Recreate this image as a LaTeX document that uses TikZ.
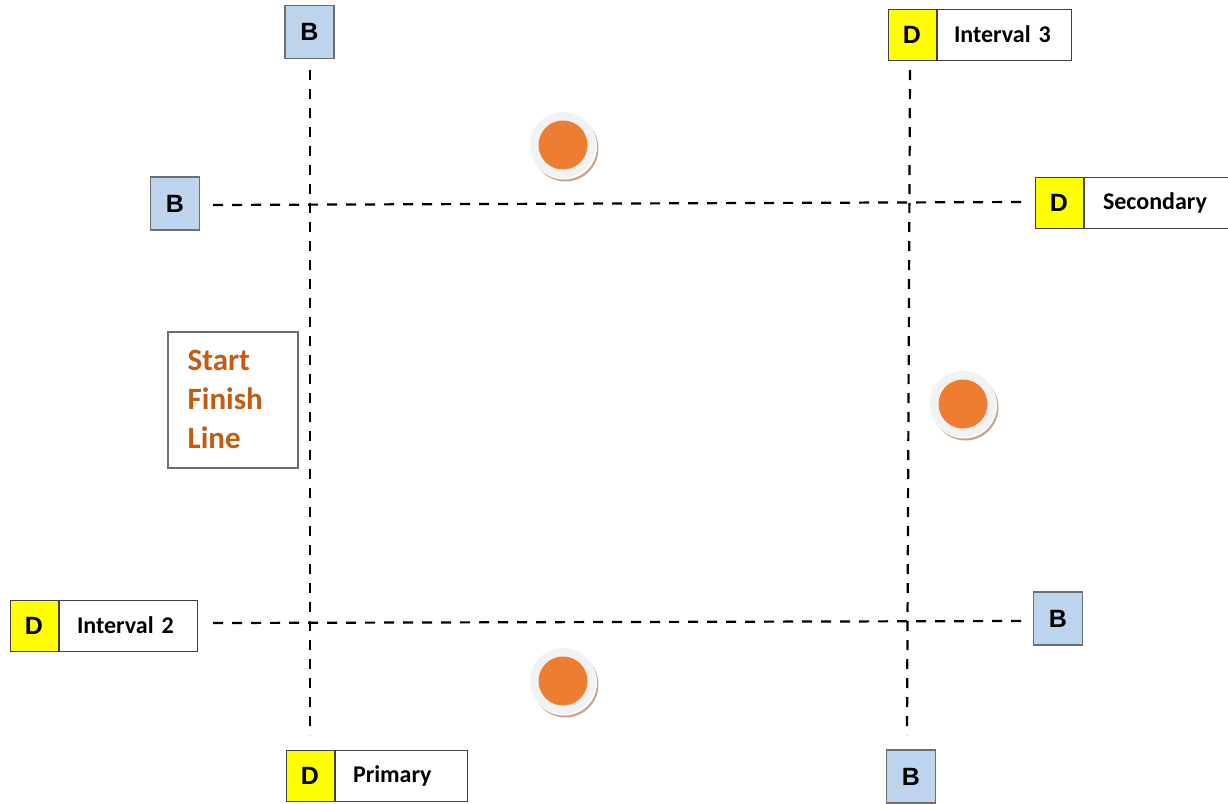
\documentclass[tikz,border=0pt]{standalone}
\usepackage{fontspec}
\setmainfont{Carlito}
\newfontfamily\arialb{Liberation Sans}
\definecolor{bblue}{HTML}{BDD4EE}
\definecolor{dyel}{HTML}{FFFF00}
\definecolor{sforange}{HTML}{C55A11}
\definecolor{ball}{HTML}{ED7D31}
\definecolor{ringc}{HTML}{F2F2F2}
\definecolor{shadc}{HTML}{C9A488}
\definecolor{bord}{HTML}{6E6E6E}
\begin{document}
\begin{tikzpicture}[x=1pt,y=-1pt,
  bbox/.style={draw=bord,line width=1.2pt,fill=bblue,minimum width=49pt,minimum height=53pt,inner sep=0pt,font=\arialb\fontsize{25}{28}\selectfont\bfseries},
  dbox/.style={draw=black!75,line width=1pt,fill=dyel,minimum width=48pt,minimum height=51pt,inner sep=0pt,font=\arialb\fontsize{25}{28}\selectfont\bfseries},
  lbox/.style={draw=black!75,line width=1pt,fill=white,minimum height=51pt,inner ysep=0pt,inner xsep=17pt,align=left,anchor=west,font=\fontsize{24}{26}\selectfont\bfseries},
  dline/.style={line width=2.2pt,dash pattern=on 10pt off 9pt},
]
\useasboundingbox (0,0) rectangle (1228,803);
% B boxes
\node[bbox] (Btop) at (309.5,32) {B};
\node[bbox] (Bleft) at (175,203.5) {B};
\node[bbox] (Bright) at (1058,618.5) {B};
\node[bbox] (Bbot) at (911,776.5) {B};
% D + label pairs
\node[dbox] (D3) at (912,34.5) {D};
\node[lbox,text width=100pt] (L3) at (D3.east) {Interval 3};
\node[dbox] (DS) at (1059,202.5) {D};
\node[lbox,text width=111pt,inner xsep=19pt,text width=107pt] (LS) at (DS.east) {Secondary};
\node[dbox] (D2) at (34,625.5) {D};
\node[lbox,inner xsep=18pt,text width=102pt] (L2) at (D2.east) {Interval 2};
\node[dbox] (DP) at (310,775.5) {D};
\node[lbox,inner xsep=18pt,text width=96pt] (LP) at (DP.east) {Primary};
% Start finish box
\node[draw=bord,line width=1.5pt,fill=white,minimum width=130pt,minimum height=136pt,inner sep=0pt] (SF) at (233,400) {};
\node[anchor=north west,align=left,text=sforange,font=\fontsize{31}{39}\selectfont\bfseries,inner sep=0pt] (SFt) at (187.5,350) {Start\\Finish\\Line};
% dashed line ends
\coordinate (v1a) at (310,70); \coordinate (v1b) at (310,735);
\coordinate (v2a) at (910,70); \coordinate (v2b) at (907,735);
\coordinate (h1a) at (213,205); \coordinate (h1b) at (1025,202);
\coordinate (h2a) at (213,623); \coordinate (h2b) at (1025,621);
\draw[dline] (v1a) -- (v1b);
\draw[dline] (v2a) -- (v2b);
\draw[dline] (h1a) -- (h1b);
\draw[dline] (h2a) -- (h2b);
% balls
\foreach \n/\cx/\cy in {ball1/563/145, ball2/963/404, ball3/563/681}{
  \fill[shadc] (\cx+2.5,\cy+3.5) circle (33);
  \fill[white] (\cx+1,\cy+1.5) circle (33);
  \fill[ringc] (\cx,\cy) circle (33);
  \node[circle,fill=ball,minimum size=49pt,inner sep=0pt] (\n) at (\cx,\cy) {};
}
\end{tikzpicture}
\end{document}
